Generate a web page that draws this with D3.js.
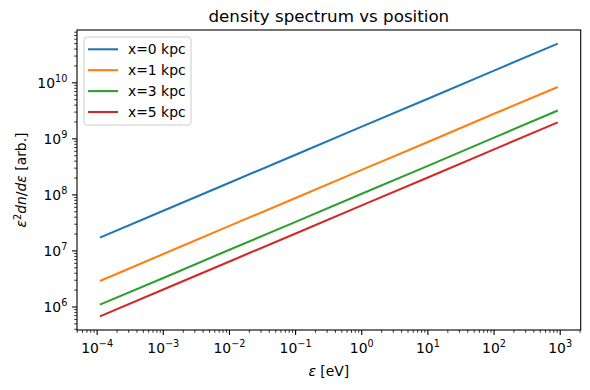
<!DOCTYPE html><html><head><meta charset="UTF-8"><script src="https://d3js.org/d3.v7.min.js"></script><style>
            body { margin: 0; background: #fff; }
            svg { font-family: "DejaVu Sans", sans-serif; }
            .tick-label { font-size: 13.9px; fill: #000; }
            .title { font-size: 16.7px; }
        </style></head><body><div id="chart"></div><script>
            // energy grid (eV) and spectra
            const energy = [1.1e-4, 1e-3, 1e-2, 1e-1, 1, 10, 100, 920];
            const x0 = [1.73e7, 5.2e7, 1.65e8, 5.2e8, 1.65e9, 5.2e9, 1.65e10, 5.0e10];
            const x1 = [2.9e6, 8.8e6, 2.8e7, 8.8e7, 2.8e8, 8.8e8, 2.8e9, 8.4e9];
            const x3 = [1.1e6, 3.3e6, 1.05e7, 3.3e7, 1.05e8, 3.3e8, 1.05e9, 3.2e9];
            const x5 = [6.8e5, 2.05e6, 6.5e6, 2.05e7, 6.5e7, 2.05e8, 6.5e8, 1.97e9];
            const labels = ['x=0 kpc', 'x=1 kpc', 'x=3 kpc', 'x=5 kpc'];
            const colors = ['#1f77b4', '#ff7f0e', '#2ca02c', '#d62728'];
            const xTickExp = [-4, -3, -2, -1, 0, 1, 2, 3];
            const yTickExp = [6, 7, 8, 9, 10];

            const series = [x0, x1, x3, x5];
            const fullWidth = 590, fullHeight = 390;
            const margin = {top: 30, right: 9.3, bottom: 60, left: 77};
            const width = fullWidth - margin.left - margin.right;
            const height = fullHeight - margin.top - margin.bottom;

            const svg = d3.select('#chart')
                .append('svg')
                .attr('width', fullWidth)
                .attr('height', fullHeight);
            const g = svg.append('g')
                .attr('transform', `translate(${margin.left},${margin.top})`);

            // matplotlib-like 5% margins in log space
            function logDomain(vals) {
                const lo = Math.log10(d3.min(vals)), hi = Math.log10(d3.max(vals));
                const m = (hi - lo) * 0.05;
                return [Math.pow(10, lo - m), Math.pow(10, hi + m)];
            }
            const x = d3.scaleLog().domain(logDomain(energy)).range([0, width]);
            const y = d3.scaleLog().domain(logDomain(series.flat())).range([height, 0]);

            const sup = {'-': '\u2212', '0': '0', '1': '1', '2': '2', '3': '3', '4': '4', '5': '5', '6': '6', '7': '7', '8': '8', '9': '9'};
            function tenLabel(sel, e) {
                sel.append('tspan').text('10');
                sel.append('tspan').attr('dy', -6).attr('font-size', '9.7px')
                    .text(String(e).split('').map(c => sup[c]).join(''));
            }

            // minor ticks
            function minors(dom) {
                const out = [];
                const a = Math.floor(Math.log10(dom[0])), b = Math.ceil(Math.log10(dom[1]));
                for (let e = a; e <= b; e++) for (let k = 2; k <= 9; k++) {
                    const v = k * Math.pow(10, e);
                    if (v >= dom[0] && v <= dom[1]) out.push(v);
                }
                return out;
            }

            // lines
            const line = d3.line().x((d, i) => x(energy[i])).y(d => y(d));
            series.forEach((s, i) => {
                g.append('path').datum(s)
                    .attr('d', line)
                    .attr('fill', 'none')
                    .attr('stroke', colors[i])
                    .attr('stroke-width', 2.08);
            });

            // frame
            g.append('rect').attr('width', width).attr('height', height)
                .attr('fill', 'none').attr('stroke', '#000').attr('stroke-width', 1.1);

            // x ticks
            minors(x.domain()).forEach(v => {
                g.append('line').attr('x1', x(v)).attr('x2', x(v))
                    .attr('y1', height).attr('y2', height + 2.8).attr('stroke', '#000').attr('stroke-width', 0.8);
            });
            xTickExp.forEach(e => {
                const px = x(Math.pow(10, e));
                g.append('line').attr('x1', px).attr('x2', px)
                    .attr('y1', height).attr('y2', height + 4.9).attr('stroke', '#000').attr('stroke-width', 1.1);
                const t = g.append('text').attr('class', 'tick-label')
                    .attr('x', px).attr('y', height + 23).attr('text-anchor', 'middle');
                tenLabel(t, e);
            });

            // y ticks
            minors(y.domain()).forEach(v => {
                g.append('line').attr('y1', y(v)).attr('y2', y(v))
                    .attr('x1', 0).attr('x2', -2.8).attr('stroke', '#000').attr('stroke-width', 0.8);
            });
            yTickExp.forEach(e => {
                const py = y(Math.pow(10, e));
                g.append('line').attr('y1', py).attr('y2', py)
                    .attr('x1', 0).attr('x2', -4.9).attr('stroke', '#000').attr('stroke-width', 1.1);
                const t = g.append('text').attr('class', 'tick-label')
                    .attr('x', -9.7).attr('y', py + 5).attr('text-anchor', 'end');
                tenLabel(t, e);
            });

            // title and axis labels
            svg.append('text').attr('class', 'title')
                .attr('x', margin.left + width / 2).attr('y', margin.top - 8)
                .attr('text-anchor', 'middle').text('density spectrum vs position');

            const xl = svg.append('text').attr('font-size', '13.9px')
                .attr('x', margin.left + width / 2).attr('y', 376).attr('text-anchor', 'middle');
            xl.append('tspan').attr('font-style', 'italic').text('ε');
            xl.append('tspan').text(' [eV]');

            const yl = svg.append('text').attr('font-size', '13.9px')
                .attr('text-anchor', 'middle')
                .attr('transform', `translate(26,${margin.top + height / 2}) rotate(-90)`);
            yl.append('tspan').attr('font-style', 'italic').text('ε');
            yl.append('tspan').attr('dy', -5).attr('font-size', '9.7px').text('2');
            yl.append('tspan').attr('dy', 5).attr('font-style', 'italic').text('dn');
            yl.append('tspan').text('/');
            yl.append('tspan').attr('font-style', 'italic').text('dε');
            yl.append('tspan').text(' [arb.]');

            // legend
            const lg = g.append('g').attr('transform', 'translate(7,7)');
            lg.append('rect').attr('width', 107).attr('height', 88).attr('rx', 2.8)
                .attr('fill', '#fff').attr('fill-opacity', 0.8)
                .attr('stroke', '#cccccc').attr('stroke-width', 1);
            labels.forEach((lab, i) => {
                const ly = 12.3 + i * 20.9;
                lg.append('line').attr('x1', 4).attr('x2', 34).attr('y1', ly).attr('y2', ly)
                    .attr('stroke', colors[i]).attr('stroke-width', 2.08);
                lg.append('text').attr('class', 'tick-label').attr('x', 44).attr('y', ly + 5).text(lab);
            });
        </script></body></html>
